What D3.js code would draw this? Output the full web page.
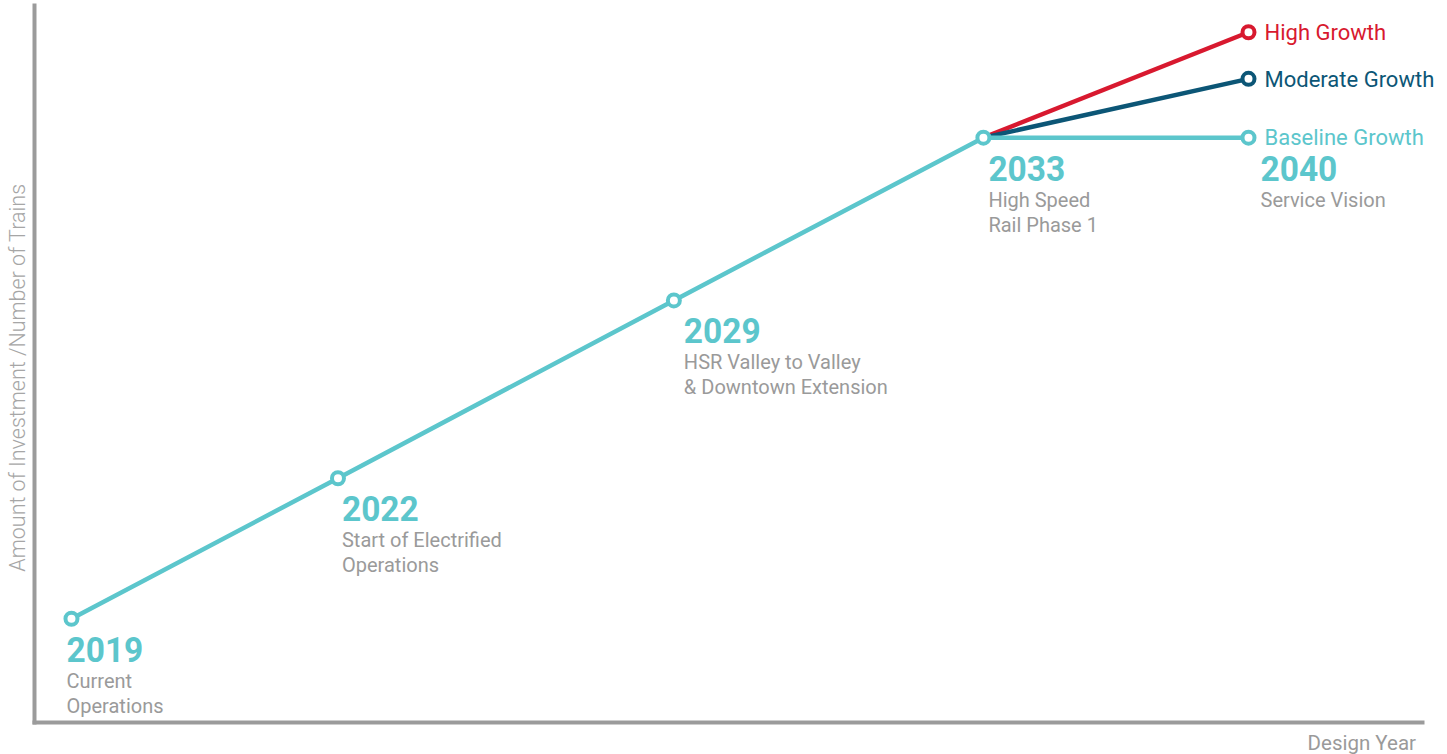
<!DOCTYPE html>
<html>
<head>
<meta charset="utf-8">
<script src="https://cdn.jsdelivr.net/npm/d3@7"></script>
<style>
  html, body { margin: 0; padding: 0; background: #fff; }
  svg { display: block; font-family: Roboto, "Noto Sans", sans-serif; }
</style>
</head>
<body>
<div id="chart1"></div>
<script>
// milestones along the timeline (x is position on the design-year axis, 0..100)
const years = ["2019", "2022", "2029", "2033", "2040"];
const timeline = [2.7, 21.9, 46.1, 68.4, 87.5];
const milestoneText = [
  ["Current", "Operations"],
  ["Start of Electrified", "Operations"],
  ["HSR Valley to Valley", "& Downtown Extension"],
  ["High Speed", "Rail Phase 1"],
  ["Service Vision"]
];

// investment level (arbitrary units 0..100)
const baseline = [14.4, 34.0, 58.8, 81.5, 81.5];
const moderate = [null, null, null, 81.5, 89.7];
const high = [null, null, null, 81.5, 96.2];

const scenarioNames = ["High Growth", "Moderate Growth", "Baseline Growth"];
const scenarioColors = ["#d8192f", "#0c5676", "#5cc6cc"];

const yTitle = "Amount of Investment /Number of Trains";
const xTitle = "Design Year";

const width = 1447;
const height = 754;
const margin = {top: 5, right: 25, bottom: 32, left: 34};

const svg = d3.select("#chart1").append("svg")
    .attr("width", width)
    .attr("height", height);

const x = d3.scaleLinear().domain([0, 100]).range([margin.left, width - margin.right]);
const y = d3.scaleLinear().domain([0, 100]).range([height - margin.bottom, margin.top]);

const axisGrey = "#9b9b9b";
const textGrey = "#9a9a9a";

// axes: only the lines, no ticks
const xAxis = svg.append("g")
    .attr("transform", "translate(0," + (height - margin.bottom) + ")")
    .call(d3.axisBottom(x).ticks(0).tickSizeOuter(0));
const yAxis = svg.append("g")
    .attr("transform", "translate(" + margin.left + ",0)")
    .call(d3.axisLeft(y).ticks(0).tickSizeOuter(0));
[xAxis, yAxis].forEach(a => a.select(".domain")
    .attr("stroke", axisGrey).attr("stroke-width", 4).attr("stroke-linecap", "square"));

svg.append("text")
    .attr("transform", "translate(25," + y(48) + ") rotate(-90)")
    .attr("text-anchor", "middle")
    .attr("fill", "#a6a6a6")
    .attr("font-size", 21.5)
    .attr("font-weight", 300)
    .text(yTitle);

svg.append("text")
    .attr("x", width - 31)
    .attr("y", 750)
    .attr("text-anchor", "end")
    .attr("fill", textGrey)
    .attr("font-size", 20.5)
    .text(xTitle);

// lines
const line = d3.line()
    .defined(d => d[1] != null)
    .x(d => x(d[0]))
    .y(d => y(d[1]));

const series = [high, moderate, baseline];
series.forEach((s, i) => {
  svg.append("path")
      .datum(timeline.map((t, j) => [t, s[j]]))
      .attr("fill", "none")
      .attr("stroke", scenarioColors[i])
      .attr("stroke-width", 4.5)
      .attr("d", line);
});

// open circle markers
const marker = (t, v, color) => svg.append("circle")
    .attr("cx", x(t)).attr("cy", y(v)).attr("r", 6)
    .attr("fill", "#fff").attr("stroke", color).attr("stroke-width", 4);

baseline.forEach((v, j) => marker(timeline[j], v, scenarioColors[2]));
marker(timeline[4], moderate[4], scenarioColors[1]);
marker(timeline[4], high[4], scenarioColors[0]);

// scenario labels at the end of each line
series.forEach((s, i) => {
  svg.append("text")
      .attr("x", x(timeline[4]) + 16)
      .attr("y", y(s[4]))
      .attr("dy", "0.35em")
      .attr("fill", scenarioColors[i])
      .attr("font-size", 22)
      .text(scenarioNames[i]);
});

// milestone labels
const labelShift = [-5, 4, 10, 5, 12];
years.forEach((yr, j) => {
  const g = svg.append("g")
      .attr("transform", "translate(" + (x(timeline[j]) + labelShift[j]) + "," + (y(baseline[j]) + 43) + ")");
  g.append("text")
      .attr("transform", "scale(0.93,1)")
      .attr("fill", scenarioColors[2])
      .attr("font-size", 36)
      .attr("font-weight", 700)
      .text(yr);
  milestoneText[j].forEach((ln, k) => {
    g.append("text")
        .attr("y", 26 + k * 25)
        .attr("fill", textGrey)
        .attr("font-size", 20)
        .text(ln);
  });
});
</script>
</body>
</html>
